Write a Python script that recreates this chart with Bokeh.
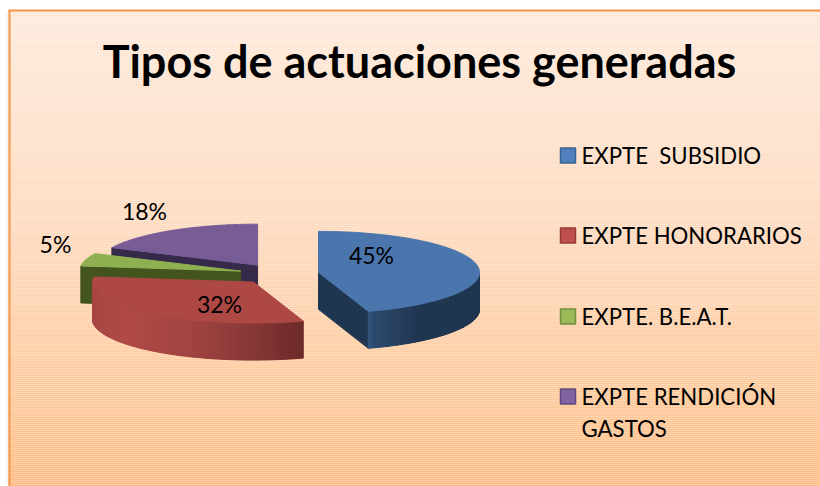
import numpy as np
from bokeh.plotting import figure
from bokeh.models import Range1d
from bokeh.core.properties import value
from bokeh.embed import file_html
from bokeh.resources import INLINE

# ---- data ----
title = "Tipos de actuaciones generadas"
categories = ["EXPTE\u00a0 SUBSIDIO", "EXPTE HONORARIOS", "EXPTE. B.E.A.T.", "EXPTE RENDICIÓN\nGASTOS"]
shares = [45, 32, 5, 18]

# ---- style / layout ----
W, H = 820, 486
FONT = "Lato"
TOP = ["#4a76ad", "#ad4845", "#8fb051", "#775c96"]
FACE = ["#1f3650", "#6f2b2b", "#44541f", "#352a4a"]
LEGEND_FILL = ["#4f81bd", "#c0504d", "#9bbb59", "#8064a2"]
LEGEND_LINE = ["#3a6391", "#943b39", "#748f40", "#5e4a7a"]
WALL_STOPS = [
    ([368, 372, 385, 420, 478], ["#35577f", "#2c4a6e", "#2a4566", "#1f3650", "#1f3650"]),
    ([92, 125, 185, 240, 304], ["#a84744", "#b04a47", "#a24442", "#8c3a39", "#6c2a2a"]),
    ([77, 90], ["#44541f", "#44541f"]),
    ([100, 110], ["#352a4a", "#352a4a"]),
]
CX, CY, RX, RY, DEPTH = 278.5, 273.5, 161.0, 41.0, 37.0
EXP_X, EXP_Y = 40.0, 10.5
LABEL_POS = [(371, 254), (219, 303), (55, 243), (144, 210)]
LEGEND_Y = [155, 235, 316, 396]
BG_STOPS = ([10, 240, 400, 486], ["#fee9da", "#fed8bb", "#fec898", "#febb82"])


def rgb(h):
    return np.array([int(h[i:i + 2], 16) for i in (1, 3, 5)], float)


def lerp(x, xs, cs):
    c = np.array([rgb(k) for k in cs])
    return "#%02x%02x%02x" % tuple(int(round(np.interp(x, xs, c[:, i]))) for i in range(3))


p = figure(width=W, height=H, x_range=Range1d(0, W), y_range=Range1d(H, 0),
           output_backend="svg", toolbar_location=None, min_border=0,
           background_fill_color="white", border_fill_color="white", outline_line_color=None)
p.axis.visible = False
p.grid.visible = False

# faint shadow left of the chart area
p.quad(left=[5, 6, 7], right=[6, 7, 8], top=10, bottom=H, line_color=None,
       fill_color=["#fbfbfb", "#f5f5f5", "#eeeeee"])
# background gradient
ys = np.arange(10, H, 2)
p.quad(left=8, right=W, top=ys, bottom=ys + 2, line_color=None,
       fill_color=[lerp(y, *BG_STOPS) for y in ys])
# L-shaped chart border
p.segment(x0=[9, 8], y0=[10, 10], x1=[9, W], y1=[H, 10], line_color="#f79646", line_width=2)

# pie geometry from the shares
total = sum(shares)
starts = np.cumsum([0] + shares[:-1]) / total * 2 * np.pi
spans = np.array(shares) / total * 2 * np.pi


def point(ax, ay, th):
    return ax + RX * np.sin(th), ay - RY * np.cos(th)


for i in [3, 2, 1, 0]:
    t0, t1 = starts[i], starts[i] + spans[i]
    mid = (t0 + t1) / 2
    ax = CX + EXP_X * np.sin(mid)
    ay = CY - EXP_Y * np.cos(mid)
    th = np.linspace(t0, t1, 160)
    ox, oy = point(ax, ay, th)

    # cut faces that look toward the viewer
    if i == 0:   # blue: end face
        ex, ey = point(ax, ay, t1)
        p.patch([ax, ex, ex, ax], [ay, ey, ey + DEPTH, ay + DEPTH], fill_color=FACE[i], line_color=FACE[i])
    if i in (2, 3):  # green, purple: start face
        ex, ey = point(ax, ay, t0)
        p.patch([ax, ex, ex, ax], [ay, ey, ey + DEPTH, ay + DEPTH], fill_color=FACE[i], line_color=FACE[i])

    # outer curved wall, in thin strips so that it can carry a gradient
    vis = (th >= np.pi / 2) & (th <= 3 * np.pi / 2)
    idx = np.where(vis)[0]
    if len(idx) > 1:
        xs_list, ys_list, cols = [], [], []
        for a, b in zip(idx[:-1], idx[1:]):
            xs_list.append([ox[a], ox[b], ox[b], ox[a]])
            ys_list.append([oy[a], oy[b], oy[b] + DEPTH, oy[a] + DEPTH])
            cols.append(lerp((ox[a] + ox[b]) / 2, *WALL_STOPS[i]))
        p.patches(xs_list, ys_list, fill_color=cols, line_color=cols, line_width=1)

    # top surface
    p.patch(np.r_[ax, ox], np.r_[ay, oy], fill_color=TOP[i], line_color=TOP[i], line_width=1)

# data labels
p.text(x=[q[0] for q in LABEL_POS], y=[q[1] for q in LABEL_POS], text=[f"{s}%" for s in shares],
       text_font=value(FONT), text_font_size="23px", text_color="black",
       text_align="center", text_baseline="middle")

# title
p.text(x=[419], y=[60], text=[title], text_font=value(FONT), text_font_style="bold",
       text_font_size="45px", text_color="black", text_align="center", text_baseline="middle")

# legend
p.rect(x=[567.5] * 4, y=LEGEND_Y, width=15, height=15, fill_color=LEGEND_FILL,
       line_color=LEGEND_LINE, line_width=1.5)
for name, y in zip(categories, LEGEND_Y):
    for k, line in enumerate(name.split("\n")):
        p.text(x=[581], y=[y + k * 32], text=[line], text_font=value(FONT), text_font_size="22.2px",
               text_color="black", text_align="left", text_baseline="middle")

open("out.html", "w").write(file_html(p, INLINE))
